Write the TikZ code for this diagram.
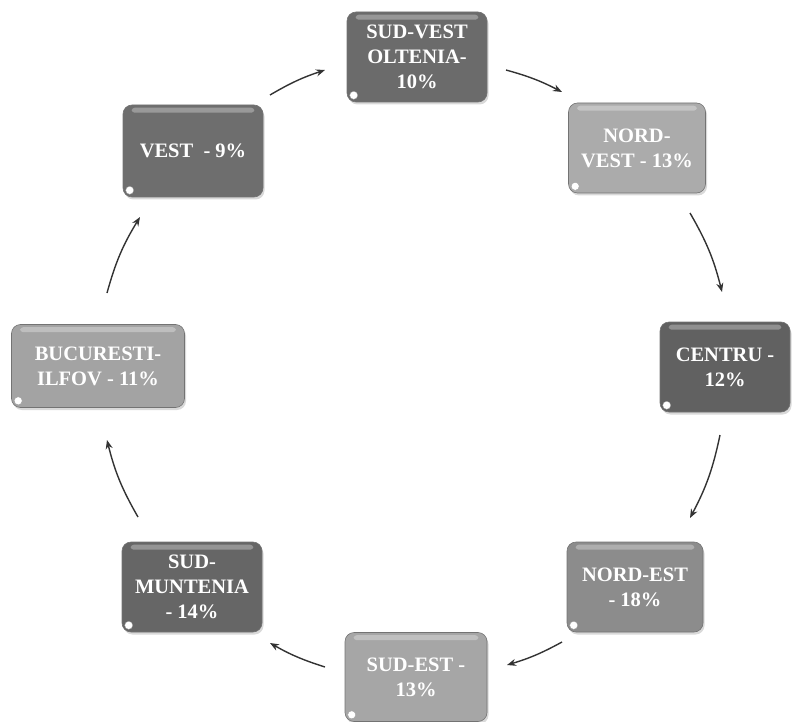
\documentclass[tikz,border=0pt]{standalone}
\usepackage{fontspec}
\setmainfont{Liberation Serif}
\usetikzlibrary{shadows,arrows.meta}
\begin{document}
\begin{tikzpicture}[x=1pt,y=-1pt,
  region/.style={rounded corners=9pt, minimum width=140pt, minimum height=90pt,
    inner sep=2pt, draw=black!55, line width=0.6pt, text=white,
    font=\bfseries\fontsize{20.5}{25}\selectfont, align=center,
    drop shadow={opacity=0.3, shadow xshift=1.5pt, shadow yshift=-2.5pt}},
  flow/.style={-{Stealth[length=9pt,width=7pt]}, line width=1.4pt, black!80},
  gloss/.style={fill=white, opacity=0.3, rounded corners=3pt},
  curl/.style={fill=white, draw=black!40, line width=0.3pt}]
\useasboundingbox (0,0) rectangle (792,722);

% regions
\node[region, fill=black!58] (sv) at (417,57) {SUD-VEST\\OLTENIA-\\10\%};
\node[region, fill=black!33, minimum width=137pt] (nv) at (637,148) {NORD-\\VEST - 13\%};
\node[region, fill=black!62, minimum width=130pt] (ce) at (725,367) {CENTRU -\\12\%};
\node[region, fill=black!45, minimum width=136pt] (ne) at (635,587) {NORD-EST\\- 18\%};
\node[region, fill=black!35, minimum width=142pt, minimum height=89pt] (se) at (416,677) {SUD-EST -\\13\%};
\node[region, fill=black!60] (sm) at (192,587) {SUD-\\MUNTENIA\\- 14\%};
\node[region, fill=black!36, minimum width=173pt, minimum height=83pt] (bi) at (98,366) {BUCURESTI-\\ILFOV - 11\%};
\node[region, fill=black!57, minimum height=92pt] (ve) at (193,151) {VEST~~- 9\%};

% gloss strips and corner curls
\foreach \n in {sv,nv,ce,ne,se,sm,bi,ve}{
  \fill[gloss] ([xshift=9pt,yshift=-3pt]\n.north west) rectangle ([xshift=-9pt,yshift=-8pt]\n.north east);
  \path[curl] ([xshift=7pt,yshift=7pt]\n.south west) circle[radius=4pt];
}

% arrow end points
\coordinate (a1s) at (506,70);  \coordinate (a1e) at (562,92);
\coordinate (a2s) at (690,213); \coordinate (a2e) at (722,292);
\coordinate (a3s) at (720,435); \coordinate (a3e) at (690,518);
\coordinate (a4s) at (562,642); \coordinate (a4e) at (507,665);
\coordinate (a5s) at (325,667); \coordinate (a5e) at (270,643);
\coordinate (a6s) at (138,517); \coordinate (a6e) at (107,440);
\coordinate (a7s) at (107,293); \coordinate (a7e) at (140,217);
\coordinate (a8s) at (270,95);  \coordinate (a8e) at (325,70);

\draw[flow] (a1s) to[bend left=6] (a1e);
\draw[flow] (a2s) to[bend left=8] (a2e);
\draw[flow] (a3s) to[bend left=8] (a3e);
\draw[flow] (a4s) to[bend left=6] (a4e);
\draw[flow] (a5s) to[bend left=6] (a5e);
\draw[flow] (a6s) to[bend left=8] (a6e);
\draw[flow] (a7s) to[bend left=8] (a7e);
\draw[flow] (a8s) to[bend left=6] (a8e);
\end{tikzpicture}
\end{document}
